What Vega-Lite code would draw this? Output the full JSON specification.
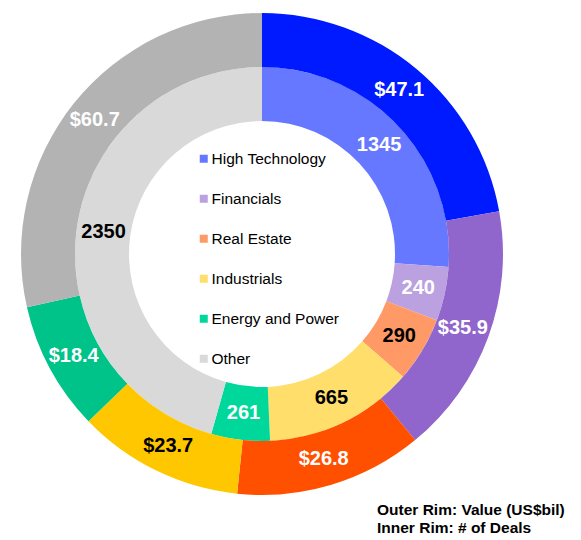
{
  "$schema": "https://vega.github.io/schema/vega-lite/v6.json",
  "width": 514,
  "height": 498,
  "padding": 5,
  "background": "white",
  "title": {
    "text": ["Outer Rim: Value (US$bil)", "Inner Rim: # of Deals"],
    "orient": "bottom",
    "anchor": "start",
    "dx": 372,
    "offset": 0,
    "font": "Liberation Sans",
    "fontSize": 15.5,
    "fontWeight": "bold",
    "color": "black",
    "lineHeight": 17.5
  },
  "data": {
    "values": [
      {"rank": 1, "sector": "High Technology", "value": 47.1, "deals": 1345},
      {"rank": 2, "sector": "Financials", "value": 35.9, "deals": 240},
      {"rank": 3, "sector": "Real Estate", "value": 26.8, "deals": 290},
      {"rank": 4, "sector": "Industrials", "value": 23.7, "deals": 665},
      {"rank": 5, "sector": "Energy and Power", "value": 18.4, "deals": 261},
      {"rank": 6, "sector": "Other", "value": 60.7, "deals": 2350}
    ]
  },
  "layer": [
    {
      "mark": {"type": "arc", "innerRadius": 133, "outerRadius": 187},
      "encoding": {
        "theta": {"field": "deals", "type": "quantitative", "stack": true},
        "order": {"field": "rank", "type": "quantitative"},
        "color": {
          "field": "sector",
          "type": "nominal",
          "scale": {
            "domain": ["High Technology", "Financials", "Real Estate", "Industrials", "Energy and Power", "Other"],
            "range": ["#6678FF", "#BBA1E0", "#FF9966", "#FFDE6B", "#00D89B", "#D9D9D9"]
          },
          "legend": {
            "orient": "none",
            "legendX": 191,
            "legendY": 146,
            "direction": "vertical",
            "title": null,
            "symbolType": "square",
            "symbolSize": 64,
            "symbolStrokeWidth": 0,
            "symbolOpacity": 1,
            "labelFont": "Liberation Sans",
            "labelFontSize": 15.5,
            "labelColor": "black",
            "labelOffset": 0,
            "rowPadding": 23,
            "padding": 0
          }
        }
      }
    },
    {
      "mark": {"type": "arc", "innerRadius": 187, "outerRadius": 241},
      "encoding": {
        "theta": {"field": "value", "type": "quantitative", "stack": true},
        "order": {"field": "rank", "type": "quantitative"},
        "color": {
          "field": "sector",
          "type": "nominal",
          "scale": {
            "domain": ["High Technology", "Financials", "Real Estate", "Industrials", "Energy and Power", "Other"],
            "range": ["#001AFF", "#9065CC", "#FF5000", "#FFC700", "#00C389", "#B3B3B3"]
          },
          "legend": null
        }
      }
    },
    {
      "mark": {"type": "text", "radius": 160, "font": "Liberation Sans", "fontWeight": "bold", "fontSize": 20, "align": "center", "baseline": "middle"},
      "encoding": {
        "theta": {"field": "deals", "type": "quantitative", "stack": true},
        "order": {"field": "rank", "type": "quantitative"},
        "text": {"field": "deals", "type": "quantitative", "format": "d"},
        "color": {
          "field": "sector",
          "type": "nominal",
          "scale": {
            "domain": ["High Technology", "Financials", "Real Estate", "Industrials", "Energy and Power", "Other"],
            "range": ["#FFFFFF", "#FFFFFF", "#000000", "#000000", "#FFFFFF", "#000000"]
          },
          "legend": null
        }
      }
    },
    {
      "mark": {"type": "text", "radius": 214, "font": "Liberation Sans", "fontWeight": "bold", "fontSize": 20, "align": "center", "baseline": "middle"},
      "encoding": {
        "theta": {"field": "value", "type": "quantitative", "stack": true},
        "order": {"field": "rank", "type": "quantitative"},
        "text": {"field": "value", "type": "quantitative", "format": "$.1f"},
        "color": {
          "field": "sector",
          "type": "nominal",
          "scale": {
            "domain": ["High Technology", "Financials", "Real Estate", "Industrials", "Energy and Power", "Other"],
            "range": ["#FFFFFF", "#FFFFFF", "#FFFFFF", "#000000", "#FFFFFF", "#FFFFFF"]
          },
          "legend": null
        }
      }
    }
  ],
  "resolve": {"scale": {"theta": "independent", "color": "independent"}},
  "config": {"view": {"stroke": null}}
}
